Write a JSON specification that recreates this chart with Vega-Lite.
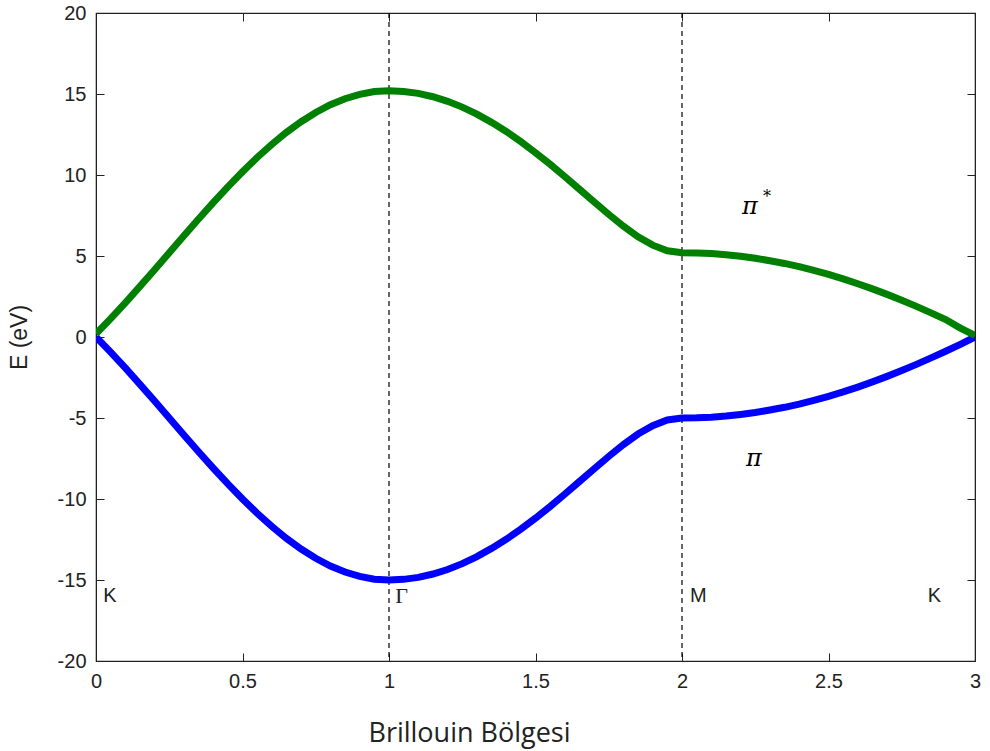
{
  "$schema": "https://vega.github.io/schema/vega-lite/v6.json",
  "autosize": "none",
  "width": 879,
  "height": 648,
  "padding": {"left": 96, "top": 13, "right": 15, "bottom": 90},
  "background": "white",
  "config": {
    "view": {"stroke": "#222", "strokeWidth": 1.2},
    "axis": {"grid": false, "domainColor": "#222", "tickColor": "#222", "labelColor": "#222", "labelFont": "Liberation Sans", "labelFontSize": 20, "titleFont": "Liberation Sans", "titleFontWeight": "normal", "titleColor": "#222"}
  },
  "datasets": {
    "bands": [
      {"k": 0, "pi": 0, "ps": 0.2},
      {"k": 0.05, "pi": -0.93, "ps": 1.13},
      {"k": 0.1, "pi": -1.91, "ps": 2.11},
      {"k": 0.15, "pi": -2.92, "ps": 3.12},
      {"k": 0.2, "pi": -3.95, "ps": 4.15},
      {"k": 0.25, "pi": -5.0, "ps": 5.2},
      {"k": 0.3, "pi": -6.05, "ps": 6.25},
      {"k": 0.35, "pi": -7.08, "ps": 7.28},
      {"k": 0.4, "pi": -8.09, "ps": 8.29},
      {"k": 0.45, "pi": -9.07, "ps": 9.27},
      {"k": 0.5, "pi": -10.0, "ps": 10.2},
      {"k": 0.55, "pi": -10.88, "ps": 11.08},
      {"k": 0.6, "pi": -11.69, "ps": 11.89},
      {"k": 0.65, "pi": -12.43, "ps": 12.63},
      {"k": 0.7, "pi": -13.09, "ps": 13.29},
      {"k": 0.75, "pi": -13.66, "ps": 13.86},
      {"k": 0.8, "pi": -14.14, "ps": 14.34},
      {"k": 0.85, "pi": -14.51, "ps": 14.71},
      {"k": 0.9, "pi": -14.78, "ps": 14.98},
      {"k": 0.95, "pi": -14.95, "ps": 15.15},
      {"k": 1.0, "pi": -15.0, "ps": 15.2},
      {"k": 1.05, "pi": -14.96, "ps": 15.16},
      {"k": 1.1, "pi": -14.84, "ps": 15.04},
      {"k": 1.15, "pi": -14.63, "ps": 14.83},
      {"k": 1.2, "pi": -14.35, "ps": 14.55},
      {"k": 1.25, "pi": -13.99, "ps": 14.19},
      {"k": 1.3, "pi": -13.56, "ps": 13.76},
      {"k": 1.35, "pi": -13.05, "ps": 13.25},
      {"k": 1.4, "pi": -12.49, "ps": 12.69},
      {"k": 1.45, "pi": -11.86, "ps": 12.06},
      {"k": 1.5, "pi": -11.18, "ps": 11.38},
      {"k": 1.55, "pi": -10.46, "ps": 10.66},
      {"k": 1.6, "pi": -9.7, "ps": 9.9},
      {"k": 1.65, "pi": -8.92, "ps": 9.12},
      {"k": 1.7, "pi": -8.14, "ps": 8.34},
      {"k": 1.75, "pi": -7.37, "ps": 7.57},
      {"k": 1.8, "pi": -6.64, "ps": 6.84},
      {"k": 1.85, "pi": -5.99, "ps": 6.19},
      {"k": 1.9, "pi": -5.47, "ps": 5.67},
      {"k": 1.95, "pi": -5.12, "ps": 5.32},
      {"k": 2.0, "pi": -5.0, "ps": 5.2},
      {"k": 2.05, "pi": -4.99, "ps": 5.19},
      {"k": 2.1, "pi": -4.95, "ps": 5.15},
      {"k": 2.15, "pi": -4.88, "ps": 5.08},
      {"k": 2.2, "pi": -4.78, "ps": 4.98},
      {"k": 2.25, "pi": -4.66, "ps": 4.86},
      {"k": 2.3, "pi": -4.51, "ps": 4.71},
      {"k": 2.35, "pi": -4.34, "ps": 4.54},
      {"k": 2.4, "pi": -4.14, "ps": 4.34},
      {"k": 2.45, "pi": -3.91, "ps": 4.11},
      {"k": 2.5, "pi": -3.66, "ps": 3.86},
      {"k": 2.55, "pi": -3.39, "ps": 3.59},
      {"k": 2.6, "pi": -3.09, "ps": 3.29},
      {"k": 2.65, "pi": -2.77, "ps": 2.97},
      {"k": 2.7, "pi": -2.43, "ps": 2.63},
      {"k": 2.75, "pi": -2.07, "ps": 2.27},
      {"k": 2.8, "pi": -1.69, "ps": 1.89},
      {"k": 2.85, "pi": -1.29, "ps": 1.49},
      {"k": 2.9, "pi": -0.88, "ps": 1.08},
      {"k": 2.95, "pi": -0.45, "ps": 0.55},
      {"k": 3.0, "pi": 0, "ps": 0.1}
    ],
    "points": [
      {"k": 0.025, "E": -16, "t": "K"},
      {"k": 1.021, "E": -16, "t": "Γ"},
      {"k": 2.027, "E": -16, "t": "M"},
      {"k": 2.839, "E": -16, "t": "K"}
    ],
    "bandlabels": [
      {"k": 2.232, "E": 8.0, "t": "π"},
      {"k": 2.245, "E": -7.5, "t": "π"}
    ],
    "vlines": [{"k": 1}, {"k": 2}]
  },
  "layer": [
    {
      "data": {"name": "vlines"},
      "mark": {"type": "rule", "color": "#000", "strokeWidth": 1.2, "strokeDash": [5, 4]},
      "encoding": {
        "x": {"field": "k", "type": "quantitative", "scale": {"domain": [0, 3], "nice": false}, "axis": null}
      }
    },
    {
      "data": {"name": "bands"},
      "mark": {"type": "line", "color": "#0000ff", "strokeWidth": 7, "clip": true},
      "encoding": {
        "x": {"field": "k", "type": "quantitative", "scale": {"domain": [0, 3], "nice": false},
          "axis": {"title": "Brillouin Bölgesi", "values": [0, 0.5, 1, 1.5, 2, 2.5, 3], "format": "~g", "tickSize": -8, "labelPadding": 18, "domain": true, "titleFont": "Open Sans", "titleFontSize": 27, "titleX": 373, "titleY": 80, "titleBaseline": "alphabetic", "titleAlign": "center", "labelFlush": false}},
        "y": {"field": "pi", "type": "quantitative", "scale": {"domain": [-20, 20], "nice": false},
          "axis": {"title": "E (eV)", "values": [-20, -15, -10, -5, 0, 5, 10, 15, 20], "labelExpr": "replace(datum.label, '\u2212', '-')", "tickSize": -8, "labelPadding": 18, "titleFontSize": 23, "titleX": -77, "titleY": 324, "titleAlign": "center", "titleBaseline": "middle", "titleAngle": -90, "labelFlush": false}}
      }
    },
    {
      "data": {"name": "bands"},
      "mark": {"type": "line", "color": "#008000", "strokeWidth": 7, "clip": true},
      "encoding": {
        "x": {"field": "k", "type": "quantitative", "scale": {"domain": [0, 3], "nice": false},
          "axis": {"orient": "top", "title": null, "labels": false, "values": [0, 0.5, 1, 1.5, 2, 2.5, 3], "tickSize": -8}},
        "y": {"field": "ps", "type": "quantitative", "scale": {"domain": [-20, 20], "nice": false},
          "axis": {"orient": "right", "title": null, "labels": false, "values": [-20, -15, -10, -5, 0, 5, 10, 15, 20], "tickSize": -8}}
      }
    },
    {
      "data": {"name": "points"},
      "transform": [{"filter": "datum.t != 'Γ'"}],
      "mark": {"type": "text", "align": "left", "baseline": "middle", "font": "Liberation Sans", "fontSize": 20, "color": "#222"},
      "encoding": {
        "x": {"field": "k", "type": "quantitative", "scale": {"domain": [0, 3], "nice": false}, "axis": null},
        "y": {"field": "E", "type": "quantitative", "scale": {"domain": [-20, 20], "nice": false}, "axis": null},
        "text": {"field": "t"}
      }
    },
    {
      "data": {"name": "points"},
      "transform": [{"filter": "datum.t == 'Γ'"}],
      "mark": {"type": "text", "align": "left", "baseline": "middle", "font": "Liberation Serif", "fontSize": 22, "color": "#222"},
      "encoding": {
        "x": {"field": "k", "type": "quantitative", "scale": {"domain": [0, 3], "nice": false}, "axis": null},
        "y": {"field": "E", "type": "quantitative", "scale": {"domain": [-20, 20], "nice": false}, "axis": null},
        "text": {"field": "t"}
      }
    },
    {
      "data": {"name": "bandlabels"},
      "mark": {"type": "text", "align": "center", "baseline": "middle", "font": "DejaVu Serif", "fontStyle": "italic", "fontSize": 24, "color": "#000"},
      "encoding": {
        "x": {"field": "k", "type": "quantitative", "scale": {"domain": [0, 3], "nice": false}, "axis": null},
        "y": {"field": "E", "type": "quantitative", "scale": {"domain": [-20, 20], "nice": false}, "axis": null},
        "text": {"field": "t"}
      }
    },
    {
      "data": {"name": "bandlabels"},
      "transform": [{"filter": "datum.E > 0"}],
      "mark": {"type": "text", "align": "center", "baseline": "middle", "font": "DejaVu Serif", "fontSize": 16, "dx": 17, "dy": -10, "color": "#000"},
      "encoding": {
        "x": {"field": "k", "type": "quantitative", "scale": {"domain": [0, 3], "nice": false}, "axis": null},
        "y": {"field": "E", "type": "quantitative", "scale": {"domain": [-20, 20], "nice": false}, "axis": null},
        "text": {"value": "*"}
      }
    }
  ],
  "resolve": {"axis": {"x": "independent", "y": "independent"}}
}
